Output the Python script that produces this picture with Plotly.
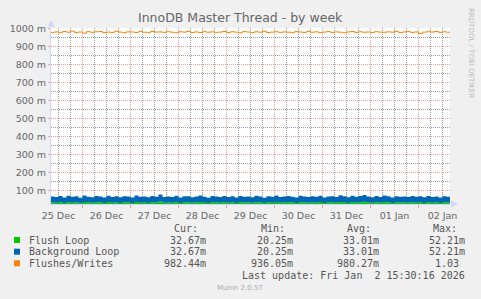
import plotly.graph_objects as go
import pandas as pd

# ---------------- data ----------------
series_start = "2025-12-25 08:00"
step = "2h"
view_start = "2025-12-25 08:15"
view_end = "2026-01-02 15:45"

flush_loop = [
    33.2, 31.8, 34.5, 30.9, 35.1, 32.4, 33.8, 29.7, 36.2, 32.9,
    31.5, 34.8, 33.0, 30.4, 35.6, 32.1, 33.9, 31.2, 34.3, 33.5,
    30.8, 36.0, 32.6, 33.4, 31.1, 34.9, 32.8, 38.7, 31.9, 33.6,
    32.2, 35.3, 30.6, 33.7, 34.1, 31.4, 33.1, 35.8, 32.5, 30.2,
    34.6, 33.3, 31.7, 35.0, 32.0, 33.9, 30.7, 34.4, 32.7, 33.2,
    31.3, 35.4, 33.6, 30.1, 34.2, 32.3, 36.4, 31.6, 33.0, 34.7,
    32.9, 30.5, 35.2, 33.4, 31.8, 34.0, 32.4, 35.7, 30.9, 33.5,
    34.3, 32.1, 36.8, 33.8, 31.0, 35.5, 32.6, 34.6, 37.2, 33.1,
    31.5, 34.8, 32.2, 35.9, 33.7, 30.3, 34.1, 32.8, 33.3, 31.9,
    35.0, 32.5, 33.9, 31.2, 34.5, 32.0, 33.6, 30.8, 34.2, 32.7, 32.67,
]
background_loop = [
    33.2, 31.8, 34.5, 30.9, 35.1, 32.4, 33.8, 29.7, 36.2, 32.9,
    31.5, 34.8, 33.0, 30.4, 35.6, 32.1, 33.9, 31.2, 34.3, 33.5,
    30.8, 36.0, 32.6, 33.4, 31.1, 34.9, 32.8, 38.7, 31.9, 33.6,
    32.2, 35.3, 30.6, 33.7, 34.1, 31.4, 33.1, 35.8, 32.5, 30.2,
    34.6, 33.3, 31.7, 35.0, 32.0, 33.9, 30.7, 34.4, 32.7, 33.2,
    31.3, 35.4, 33.6, 30.1, 34.2, 32.3, 36.4, 31.6, 33.0, 34.7,
    32.9, 30.5, 35.2, 33.4, 31.8, 34.0, 32.4, 35.7, 30.9, 33.5,
    34.3, 32.1, 36.8, 33.8, 31.0, 35.5, 32.6, 34.6, 37.2, 33.1,
    31.5, 34.8, 32.2, 35.9, 33.7, 30.3, 34.1, 32.8, 33.3, 31.9,
    35.0, 32.5, 33.9, 31.2, 34.5, 32.0, 33.6, 30.8, 34.2, 32.7, 32.67,
]
flushes_writes = [
    978.5, 981.2, 976.8, 983.0, 979.4, 985.1, 977.9, 980.6, 974.2, 982.3,
    979.0, 981.8, 983.6, 977.2, 980.1, 978.4, 984.7, 979.9, 976.5, 981.4,
    980.8, 978.2, 982.9, 979.6, 977.1, 983.3, 980.2, 981.0, 978.9, 982.1,
    979.3, 976.9, 981.7, 980.4, 983.8, 978.0, 980.9, 977.6, 982.5, 979.2,
    981.3, 978.7, 980.0, 983.1, 977.4, 981.9, 979.8, 976.3, 982.7, 980.5,
    978.1, 981.6, 979.5, 984.2, 977.8, 980.3, 982.0, 978.6, 981.1, 979.7,
    976.7, 982.4, 980.7, 978.3, 983.5, 979.1, 981.5, 977.0, 980.2, 982.8,
    978.8, 981.2, 979.4, 976.1, 980.9, 983.2, 978.5, 981.8, 979.0, 980.6,
    977.5, 982.2, 980.0, 978.9, 981.4, 979.6, 983.9, 977.3, 980.8, 982.6,
    978.2, 981.0, 972.8, 979.8, 982.3, 980.4, 983.4, 978.7, 981.7, 979.3, 982.44,
]

series_names = ["Flush Loop", "Background Loop", "Flushes/Writes"]
series_colors = ["#00CC00", "#0066B3", "#FF8000"]
stat_headers = ["Cur:", "Min:", "Avg:", "Max:"]
stat_values = [
    ["32.67m", "20.25m", "33.01m", "52.21m"],
    ["32.67m", "20.25m", "33.01m", "52.21m"],
    ["982.44m", "936.05m", "980.27m", "1.03"],
]
title = "InnoDB Master Thread - by week"
last_update = "Last update: Fri Jan\u00a0\u00a02 15:30:16 2026"
footer = "Munin 2.0.57"
side_text = "RRDTOOL / TOBI OETIKER"

# ---------------- layout geometry ----------------
W, H = 481, 299
L, R, T, B = 51, 450, 28, 204
y_range = [25.0, 1002.78]


def px(x):
    return (x - L) / (R - L)


def py(y):
    return (B - y) / (B - T)


times = pd.date_range(series_start, periods=len(flush_loop), freq=step)

fig = go.Figure()
fig.add_trace(go.Scatter(x=times, y=flush_loop, name=series_names[0], stackgroup="s",
                         mode="lines", line=dict(width=0, shape="hv", color=series_colors[0]),
                         fillcolor=series_colors[0]))
fig.add_trace(go.Scatter(x=times, y=background_loop, name=series_names[1], stackgroup="s",
                         mode="lines", line=dict(width=0, shape="hv", color=series_colors[1]),
                         fillcolor=series_colors[1]))
fig.add_trace(go.Scatter(x=times, y=flushes_writes, name=series_names[2], mode="lines",
                         line=dict(width=1, shape="hv", color=series_colors[2])))

tickfont = dict(family="DejaVu Sans", size=9.5, color="#666666")
mgrid = "#EE9C9C"
grid = "#9C9C9C"
dash = "1px,1px"
axis_col = "#CFD6F8"

fig.update_layout(
    width=W, height=H,
    margin=dict(l=L, r=W - R, t=T, b=H - B, pad=0, autoexpand=False),
    paper_bgcolor="#F0F0F0",
    plot_bgcolor="#FFFFFF",
    showlegend=False,
    xaxis=dict(
        type="date", range=[view_start, view_end],
        tick0="2025-12-25", dtick=86400000, tickformat="%d %b", ticklabelmode="period",
        showgrid=True, gridcolor=mgrid, griddash=dash, gridwidth=1,
        ticks="outside", ticklen=3, tickcolor=mgrid,
        minor=dict(dtick=21600000, showgrid=True, gridcolor=grid, griddash=dash, gridwidth=1, ticks=""),
        showline=True, linecolor=axis_col, linewidth=1,
        tickfont=tickfont, zeroline=False, fixedrange=True,
    ),
    yaxis=dict(
        range=y_range, tick0=0, dtick=100, ticksuffix=" m",
        showgrid=True, gridcolor=mgrid, griddash=dash, gridwidth=1,
        ticks="outside", ticklen=2, tickcolor=mgrid,
        minor=dict(tick0=0, dtick=50, showgrid=True, gridcolor=grid, griddash=dash, gridwidth=1, ticks=""),
        showline=True, linecolor=axis_col, linewidth=1,
        tickfont=tickfont, zeroline=False, fixedrange=True,
    ),
)

# axis arrows
fig.add_shape(type="path", xref="paper", yref="paper", xsizemode="pixel", ysizemode="pixel",
              xanchor=0, yanchor=1, path="M -3.5,1 L 3.5,1 L 0,8 Z",
              fillcolor=axis_col, line=dict(width=0))
fig.add_shape(type="path", xref="paper", yref="paper", xsizemode="pixel", ysizemode="pixel",
              xanchor=1, yanchor=0, path="M 1,-3.5 L 1,3.5 L 8,0 Z",
              fillcolor=axis_col, line=dict(width=0))

anns = []
anns.append(dict(text=title, x=px(240.5), y=py(18), xanchor="center", yanchor="middle",
                 font=dict(family="DejaVu Sans", size=12.5, color="#666666")))
anns.append(dict(text=side_text, x=px(471), y=py(53), xanchor="center", yanchor="middle",
                 textangle=90, font=dict(family="DejaVu Sans", size=7, color="#BBBBBB")))

mono = dict(family="DejaVu Sans Mono", size=10, color="#555555")
header_x = [172, 259, 345, 431]
value_right = [208, 295, 381, 467]
for hx, h in zip(header_x, stat_headers):
    anns.append(dict(text=h, x=px(hx), y=py(228.5), xanchor="left", yanchor="middle", font=mono))

row_y = [240, 251.7, 263.3]
for i, (name, col, vals) in enumerate(zip(series_names, series_colors, stat_values)):
    y = row_y[i]
    fig.add_shape(type="rect", xref="paper", yref="paper",
                  x0=px(14), x1=px(20), y0=py(y + 3), y1=py(y - 3),
                  fillcolor=col, line=dict(width=0))
    anns.append(dict(text=name, x=px(26.5), y=py(y), xanchor="left", yanchor="middle", font=mono))
    for j, v in enumerate(vals):
        xr = value_right[j]
        if not v.endswith("m"):
            xr -= 6
        anns.append(dict(text=v, x=px(xr), y=py(y), xanchor="right", yanchor="middle", font=mono))

anns.append(dict(text=last_update, x=px(467), y=py(275.5), xanchor="right", yanchor="middle", font=mono))
anns.append(dict(text=footer, x=px(240), y=py(288), xanchor="center", yanchor="middle",
                 font=dict(family="DejaVu Sans", size=7, color="#AAAAAA")))

for a in anns:
    a.update(xref="paper", yref="paper", showarrow=False)
fig.update_layout(annotations=anns)

fig.write_html("out.html")
